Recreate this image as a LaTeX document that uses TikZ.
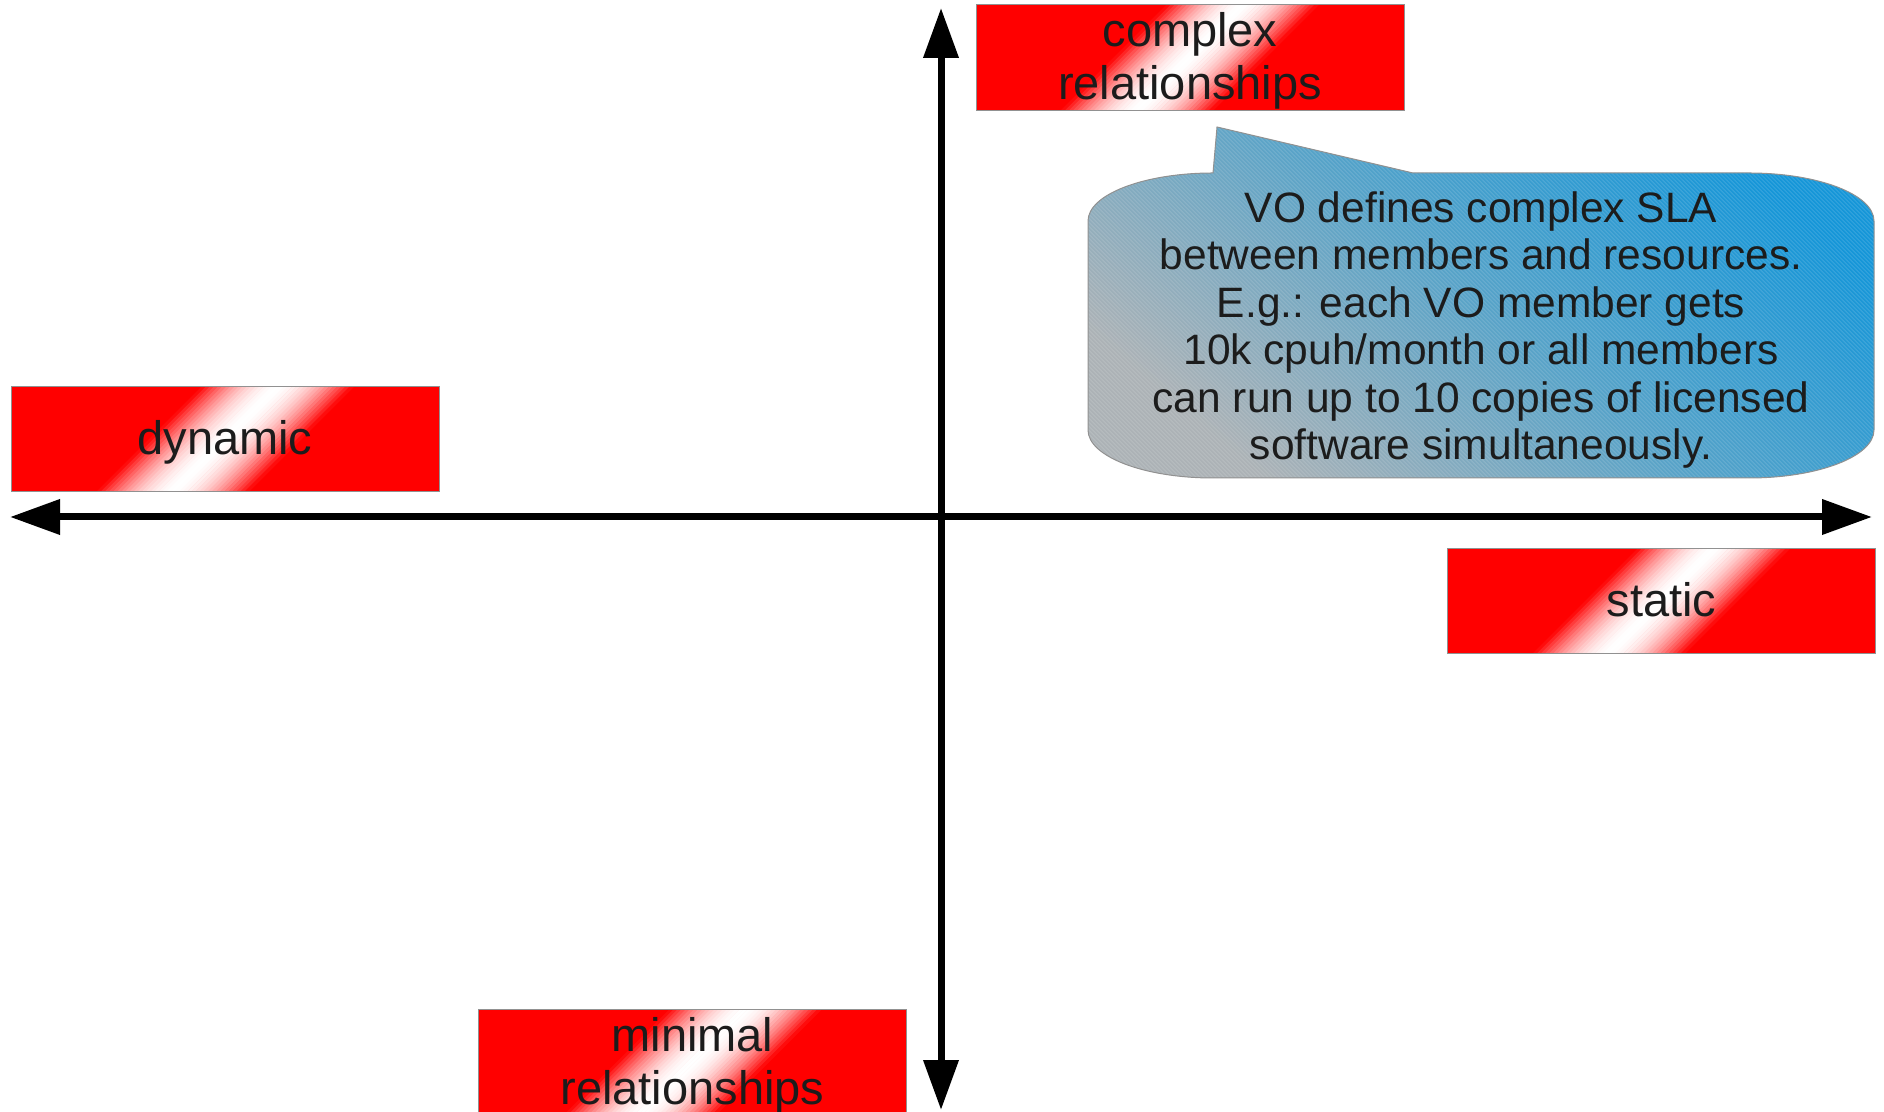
\documentclass[tikz,border=0pt]{standalone}
\usepackage{fontspec}
\setmainfont{Liberation Sans}
\usetikzlibrary{arrows.meta,calc}

\definecolor{inkgray}{RGB}{28,28,28}
\definecolor{edgegray}{RGB}{145,145,145}
\definecolor{calloutlow}{RGB}{172,178,182}
\definecolor{calloutmid}{RGB}{88,163,200}
\definecolor{callouthigh}{RGB}{22,150,216}

\tikzset{
  % diagonal white glint across a red label
  bandfill/.style={path picture={
    \coordinate (bandc) at (path picture bounding box.center);
    \foreach \bandi in {0,...,36}{
      \pgfmathsetmacro\bandt{(\bandi+0.5)/37*2-1}
      \pgfmathsetmacro\bandmix{100*abs(\bandt)^1.8}
      \pgfmathsetmacro\bandpos{\bandt*76}
      \fill[red!\bandmix!white]
        ($(bandc)+({\bandpos-2.4+60},60)$) -- ($(bandc)+({\bandpos+2.4+60},60)$) --
        ($(bandc)+({\bandpos+2.4-60},-60)$) -- ($(bandc)+({\bandpos-2.4-60},-60)$) -- cycle;
    }}},
  labelbox/.style={draw=edgegray, line width=1pt, fill=red, bandfill,
    minimum width=428pt, minimum height=105pt, inner sep=0pt,
    text=inkgray, align=center, font=\fontsize{47}{53}\selectfont},
  oneline/.style={text height=42pt, text depth=11pt},
  % fine hatching over the speech bubble
  hatching/.style={path picture={
    \coordinate (hatchc) at (path picture bounding box.center);
    \foreach \hk in {-600,-596,...,600}
      \draw[white, opacity=0.16, line width=0.7pt]
        ($(hatchc)+({\hk-200},200)$) -- ($(hatchc)+({\hk+200},-200)$);
    }},
  axisline/.style={line width=7pt, >={Triangle[length=50pt,width=34pt]}, <->},
}

\begin{document}
\begin{tikzpicture}[x=1pt, y=1pt]
  \useasboundingbox (0,0) rectangle (1884,1111);

  % axes
  \coordinate (west) at (10,594);
  \coordinate (east) at (1872,594);
  \coordinate (north) at (941,1103);
  \coordinate (south) at (941,1);
  \draw[axisline] (west) -- (east);
  \draw[axisline] (south) -- (north);

  % quadrant labels
  \node[labelbox] (complex) at (1190,1053.5)
    {\rule{0pt}{42pt}complex\\relationships\rule[-11pt]{0pt}{11pt}};
  \node[labelbox, oneline] (dynamic) at (225,671.5) {dynamic};
  \node[labelbox, oneline] (static) at (1661.5,510) {static};
  \node[labelbox] (minimal) at (692.5,48.5)
    {\rule{0pt}{42pt}minimal\\relationships\rule[-11pt]{0pt}{11pt}};

  % speech bubble
  \path[draw=edgegray, line width=1pt,
        top color=callouthigh, bottom color=calloutlow, middle color=calloutmid,
        shading angle=-40, hatching]
    (1213,938) -- (1217,984) -- (1413,938) -- (1749,938)
    arc[start angle=90, end angle=0, x radius=125, y radius=48]
    -- (1874,681)
    arc[start angle=0, end angle=-90, x radius=125, y radius=48]
    -- (1213,633)
    arc[start angle=270, end angle=180, x radius=125, y radius=48]
    -- (1088,890)
    arc[start angle=180, end angle=90, x radius=125, y radius=48]
    -- cycle;
  \node[text=inkgray, align=center, inner sep=0pt,
        font=\fontsize{42.5}{47.4}\selectfont] (note) at (1481,781)
    {VO defines complex SLA\\between members and resources.\\E.g.: each VO member gets\\10k cpuh/month or all members\\can run up to 10 copies of licensed\\software simultaneously.};
\end{tikzpicture}
\end{document}
